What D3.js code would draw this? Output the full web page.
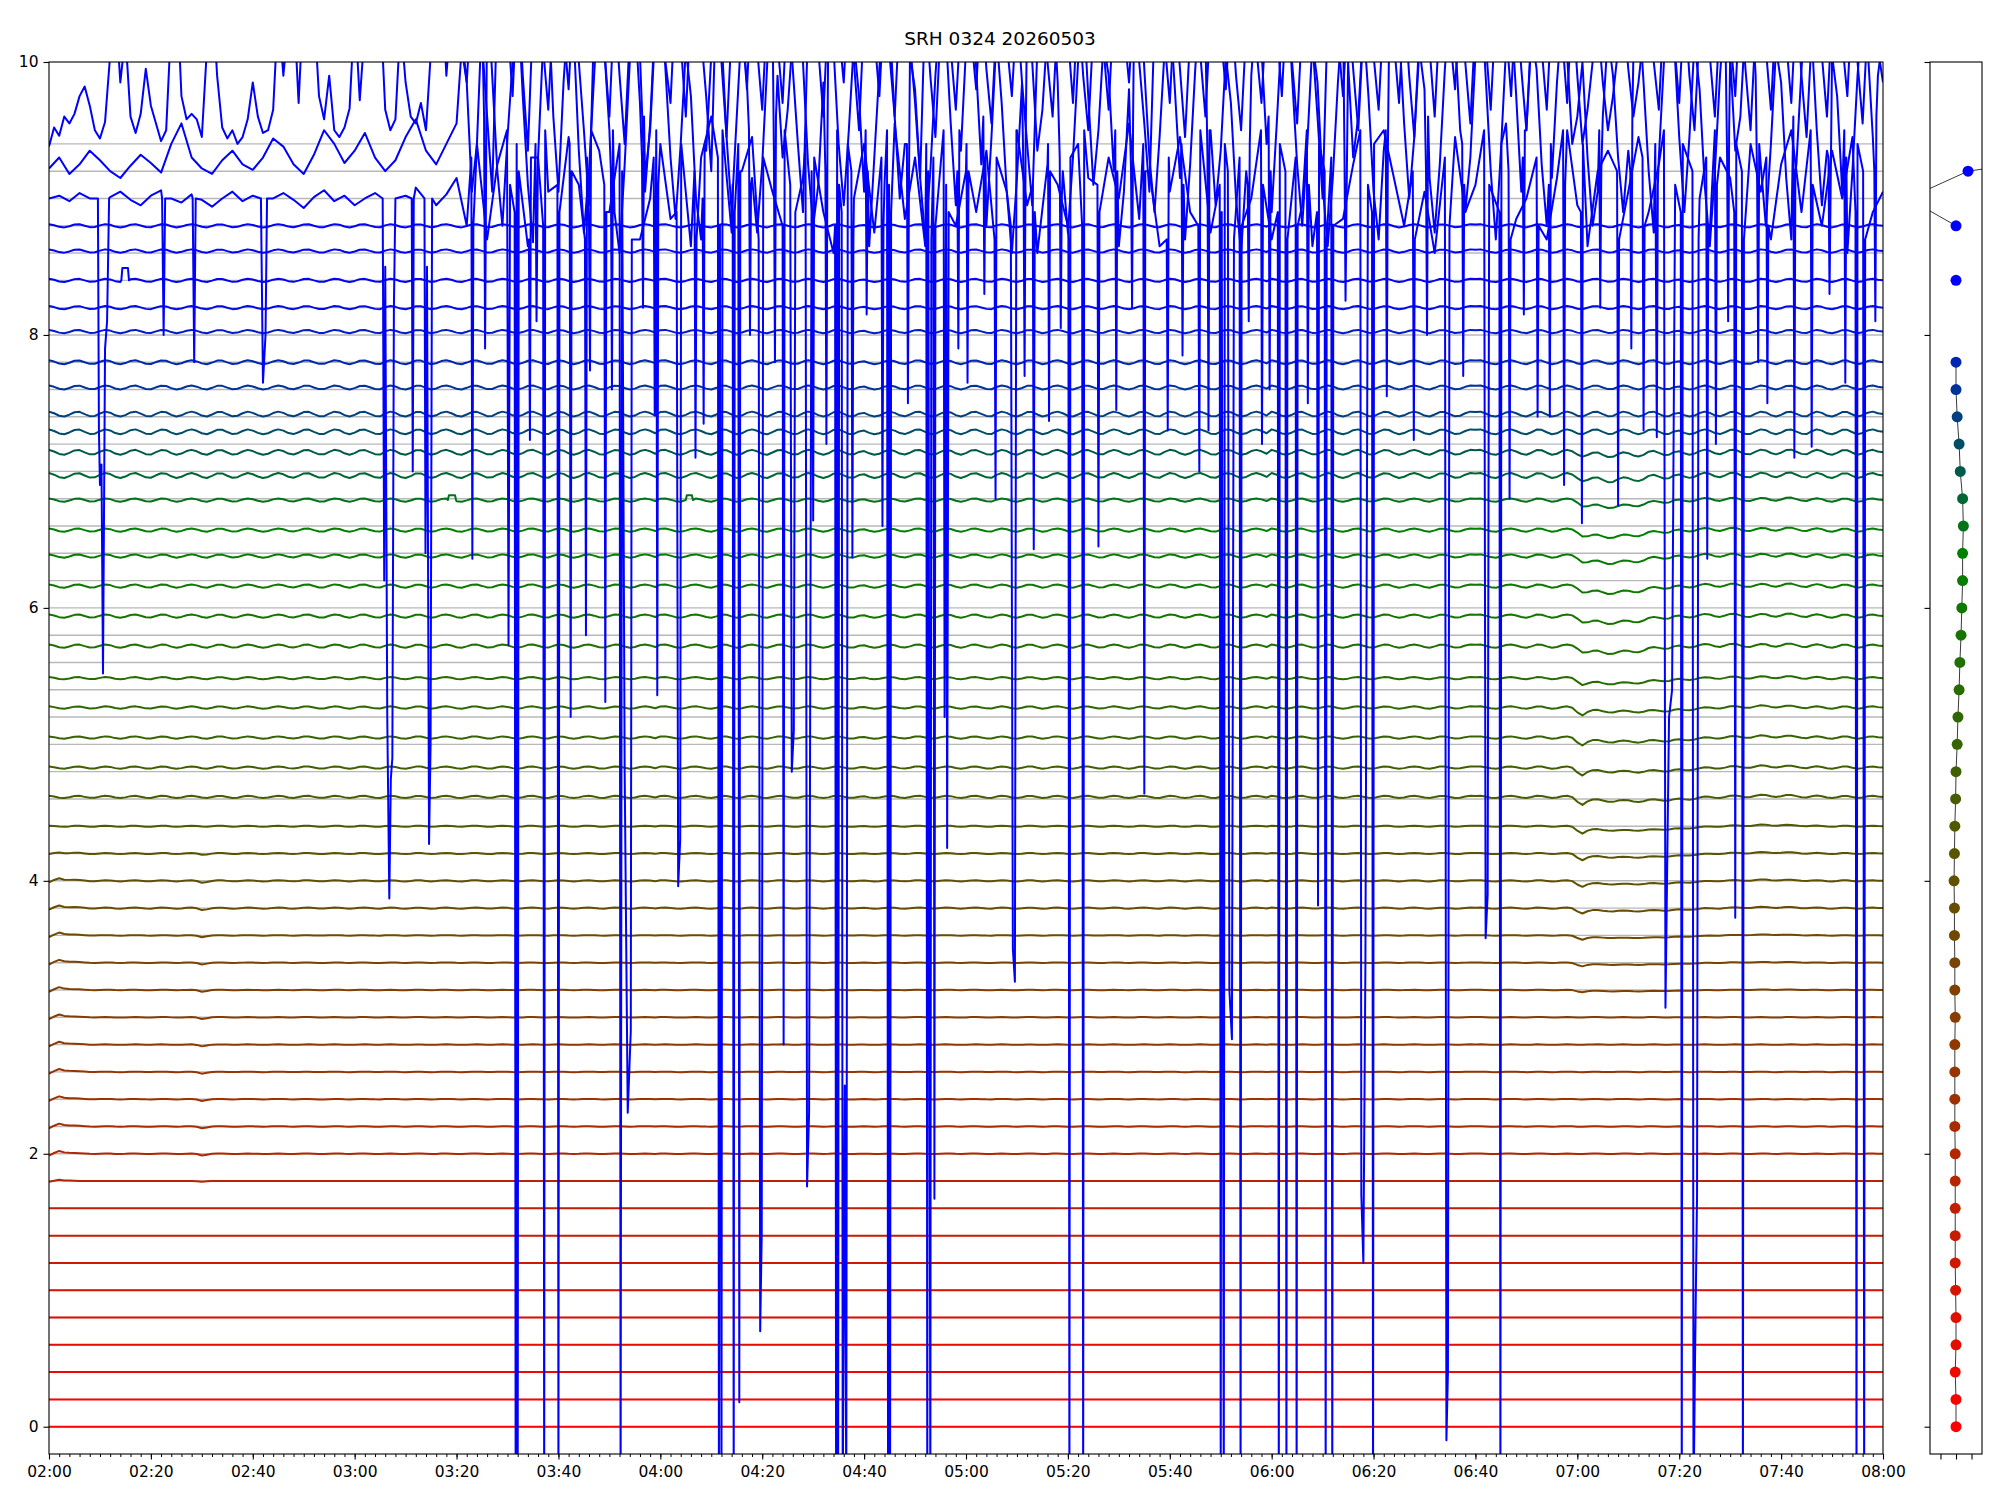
<!DOCTYPE html>
<html lang="en">
<head>
<meta charset="UTF-8">
<title>SRH 0324 20260503</title>
<script src="https://d3js.org/d3.v7.min.js"></script>
<style>
  body { margin: 0; background: #fff; }
  svg { display: block; font-family: "DejaVu Sans", sans-serif; }
</style>
</head>
<body>
<svg id="chart"></svg>
<script>
// ---------------- data ----------------
const chartTitle = 'SRH 0324 20260503';

// nominal level of every channel (also the grey grid lines)
const levels = [0.0, 0.2, 0.4, 0.6, 0.8, 1.0, 1.2, 1.4, 1.6, 1.8,
                2.0, 2.2, 2.4, 2.6, 2.8, 3.0, 3.2, 3.4, 3.6, 3.8,
                4.0, 4.2, 4.4, 4.6, 4.8, 5.0, 5.2, 5.4, 5.6, 5.8,
                6.0, 6.2, 6.4, 6.6, 6.8, 7.0, 7.2, 7.4, 7.6, 7.8,
                8.0, 8.2, 8.4, 8.6, 8.8, 9.0, 9.2, 9.4];

// how far each quiet trace sits above its grid line
const offsets = [0, 0, 0, 0, 0, 0, 0, 0, 0, 0,
                 0, 0, 0, 0, 0, 0, 0, 0, 0, 0,
                 0, 0, 0, 0.015, 0.03, 0.05, 0.07, 0.085, 0.12, 0.14,
                 0.16, 0.18, 0.17, 0.19, 0.17, 0.14, 0.09, 0.02, 0.015, 0,
                 0.025, 0, 0, 0.015, 0, 0, 0, 0];

// right panel: per-channel value (null = no point)
const panelX = [0, 0, -0.02, 0, 0, -0.01, -0.02, -0.02, -0.02, -0.02,
                -0.02, -0.03, -0.03, -0.03, -0.03, -0.02, -0.03, -0.03, -0.04, -0.04,
                -0.05, -0.04, -0.03, -0.01, 0, 0.03, 0.05, 0.08, 0.1, 0.13,
                0.15, 0.17, 0.17, 0.19, 0.17, 0.11, 0.08, 0.03, 0, 0,
                null, null, 0, null, 0, -1.24, 0.31, 5.2];

// size of the common ripple, the 07:00 dips and the 02:00 bump per channel
const wigAmp = [0, 0, 0, 0, 0, 0, 0, 0, 0, 0,
                0.15, 0.15, 0.15, 0.15, 0.15, 0.15, 0.15, 0.15, 0.15, 0.35,
                0.35, 0.35, 0.35, 0.7, 0.7, 0.7, 0.7, 0.7, 1, 1,
                1, 1, 1, 1, 1.5, 1.5, 1.5, 1.5, 1.2, 1.2,
                1, 1, 1, 1, 1, 0, 0, 0];
const sharpAmt = [0, 0, 0, 0, 0, 0, 0, 0, 0, 0,
                  0, 0, 0, 0, 0, 0, 0.3, 0.5, 0.6, 0.7,
                  0.8, 0.9, 1, 1, 1, 1, 1, 0.5, 0, 0,
                  0, 0, 0, 0, 0, 0, 0, 0, 0, 0,
                  0, 0, 0, 0, 0, 0, 0, 0];
const softAmt = [0, 0, 0, 0, 0, 0, 0, 0, 0, 0,
                 0, 0, 0, 0, 0, 0, 0, 0, 0, 0,
                 0, 0, 0, 0, 0, 0, 0, 0.5, 1, 1,
                 1, 1, 1, 1, 0.7, 0.4, 0, 0, 0, 0,
                 0, 0, 0, 0, 0, 0, 0, 0];
const bumpAmt = [0, 0, 0, 0, 0, 0, 0, 0, 0, 0.4,
                 1, 1, 1, 1, 1, 1, 1, 1, 1, 1,
                 1, 0.5, 0, 0, 0, 0, 0, 0, 0, 0,
                 0, 0, 0, 0, 0, 0, 0, 0, 0, 0,
                 0, 0, 0, 0, 0, 0, 0, 0];

// common ripple, thousandths, one value per minute 02:00..08:00
const wiggle = `
12 4 -8 -12 -3 9 11 0 -10 -9 3 12 7 -6 -12 -5 8 12 2 -9 -11 1 11 9 -4 -12 -6 6 12 5 -7 -12 -2 10 10 -1 -11 -8 4 12
6 -5 -12 -7 5 12 6 -6 -11 -2 10 11 0 -10 -10 2 12 8 -5 -12 -4 9 11 1 -9 -11 3 12 6 -7 -12 -3 10 10 -2 -12 -6 7 12 4
-8 -12 -2 10 11 1 -10 -9 4 12 6 -6 -12 -4 9 12 2 -9 -11 2 12 8 -5 -12 -5 8 12 3 -9 -11 1 11 9 -3 -12 -7 6 12 5 -7
10 12 3 -8 -12 -4 8 12 4 -7 -12 -2 11 10 -2 -12 -7 6 12 5 -8 -12 -1 10 11 0 -10 -9 4 12 7 -5 -12 -5 9 12 1 -10 -10 2
6 -5 -12 -7 5 12 6 -6 -11 -2 10 11 0 -10 -10 2 12 8 -5 -12 -4 9 11 1 -9 -11 3 12 6 -7 -12 -3 10 10 -2 -12 -6 7 12 4
-8 -12 -2 10 11 1 -10 -9 4 12 6 -6 -12 -4 9 12 2 -9 -11 2 12 8 -5 -12 -5 8 12 3 -9 -11 1 11 9 -3 -12 -7 6 12 5 -7
12 4 -8 -12 -3 9 11 0 -10 -9 3 12 7 -6 -12 -5 8 12 2 -9 -11 1 11 9 -4 -12 -6 6 12 5 -7 -12 -2 10 10 -1 -11 -8 4 12
10 12 3 -8 -12 -4 8 12 4 -7 -12 -2 11 10 -2 -12 -7 6 12 5 -8 -12 -1 10 11 0 -10 -9 4 12 7 -5 -12 -5 9 12 1 -10 -10 2
6 -5 -12 -7 5 12 6 -6 -11 -2 10 11 0 -10 -10 2 12 8 -5 -12 -4 9 11 1 -9 -11 3 12 6 -7 -12 -3 10 10 -2 -12 -6 7 12 4
0`;

// 07:00 dips, thousandths, minutes 296..350 (06:56..07:50)
const dipSharp = `0 0 0 -5 -30 -50 -32 -26 -25 -27 -28 -30 -30 -31 -30 -30 -29 -28 -27 -26
-24 -22 -20 -18 -16 -14 -12 -10 -8 -6 -4 -2 0 1 2 3 4 5 6 7 8 8 8 8 8 7 6 5 4 3 2 1 0 0 0`;
const dipSoft = `0 0 0 0 -10 -35 -45 -45 -44 -46 -48 -48 -47 -45 -42 -38 -33 -28 -23 -18
-14 -10 -7 -4 -2 0 1 2 3 4 5 5 5 6 6 6 5 5 4 4 4 5 6 7 8 8 7 6 5 4 3 2 1 0 0`;
// bump at the very start of the brown traces, thousandths, minutes 0..35
const startBump = `-15 5 22 12 8 5 3 2 1 0 0 0 0 0 0 0 0 0 0 0
0 0 0 0 0 0 0 0 0 -3 -12 -5 0 0 0 0`;

// small square steps: channel index, [minute, rise]
const steps = [
  [42, [[14.2, 0], [14.4, 0.09], [15.5, 0.09], [15.7, 0]]],
  [33, [[78.3, 0], [78.5, 0.035], [79.7, 0.035], [79.9, 0]]],
  [33, [[125.0, 0], [125.2, 0.035], [126.2, 0.035], [126.4, 0]]]
];

// channel 9.4, hundredths, one value per minute
const noisyA = `
938 952 946 960 955 962 975 982 968 950 944 956 1005 1045 985 1020 960 948 962 995
968 955 942 950 1030 1060 975 958 962 958 945 1010 1055 990 952 944 950 940 945 958
985 960 948 950 965 1040 990 1030 1045 970 1050 1020 1040 975 958 990 950 945 952 966
1040 972 1025 1060 1010 1045 965 950 958 1030 985 960 955 970 950 1010 1050 1065 990 1040
1070 1020 985 1050 1090 1015 960 905 1045 1080 1030 975 1060 990 935 1035 1075 1010 965 1040
1085 1025 980 1055 1000 950 895 1030 1070 1010 960 1045 990 940 1020 1065 1005 905 955 1035
1080 1000 970 1050 1015 960 1040 1090 1020 975 920 1055 1000 945 1025 1075 1030 980 1060 1010
965 1040 1085 1015 970 1050 995 940 890 1030 1070 1010 960 1045 1090 1025 985 1055 1000 950
1035 1080 1020 975 1050 1005 960 1040 1075 1015 970 915 1045 990 945 1025 1060 1010 965 1035
1085 1020 980 1050 995 955 1030 1070 1015 975 1040 985 940 895 1010 1055 1000 960 1035 1075
1020 970 1045 990 950 1025 1065 1010 965 1040 1080 1025 985 1050 1000 955 905 1030 1070 1015
970 1045 995 945 1020 1060 1005 960 1035 1075 1020 980 1045 990 950 1025 1065 1010 970 1040
1085 1025 975 1050 1000 955 1030 1070 1015 960 900 1035 1080 1020 975 1045 995 950 1025 1060
1005 965 1040 1075 1015 970 1045 990 945 1020 1065 1010 960 1035 1080 1020 980 1050 1000 955
1030 1070 1015 965 1040 1085 1025 975 1050 995 950 1025 1065 1010 965 1040 1075 1020 970 1045
990 940 965 1000 1030 985 950 975 1010 1040 995 960 985 1020 1055 1000 965 1040 1075 1015
970 1045 990 950 1025 1065 1005 960 1035 1080 1020 975 1050 995 950 1025 1060 1010 965 1040
1075 1015 970 1045 990 945 1020 1065 1005 960 1035 1070 1015 975 1050 1000 955 1030 1060 1010
985`;

// channel 9.2, hundredths: every 2 minutes up to 03:18, then every minute
const noisyBEarly = `
922 930 918 925 935 928 920 915 924 932 926 919 940 955 930 922 918 928 935 925
921 930 944 938 925 918 932 950 940 926 935 948 930 920 928 945 958 935 925 940`;
const noisyBLate = `
955 1010 985 905 940 1035 1060 990 920 880 945 1000 1050 975 910 868 930 1015 1045 960
905 985 1040 1020 935 875 920 990 1055 1010 950 890 860 925 1000 1035 970 915 950 1025
1060 995 930 885 940 1010 975 900 870 935 1005 1050 1020 945 890 960 1030 985 915 875
925 1000 1045 990 930 965 1020 1065 1000 925 880 910 985 1040 1010 940 895 950 1015 975
905 865 930 995 1050 1030 960 900 940 1005 980 915 870 920 990 1045 1025 955 895 935
1010 1060 995 925 880 945 1020 970 905 860 915 985 1040 1000 935 965 1025 1055 985 920
875 930 1000 1045 975 910 950 1015 990 920 865 905 980 1035 1060 995 930 890 945 1010
1040 980 915 870 925 995 1050 1020 950 895 935 1005 970 900 860 920 990 1045 1010 940
890 955 1025 1060 990 925 880 940 1015 985 910 865 915 985 1040 1000 930 960 1030 975
905 870 935 1000 1050 1025 955 900 945 1010 980 915 875 925 995 1045 1020 950 890 930
1005 1055 990 920 870 935 1010 1040 975 905 950 1020 995 925 880 915 985 1035 1005 940
960 1000 930 880 905 960 1020 990 930 890 935 1005 1045 985 920 875 930 1000 1050 1015
945 890 945 1015 980 910 865 920 990 1040 1005 935 960 1030 1060 990 925 880 940 1010
985 915 870 925 995 1045 1020 950 895 935 1005 975 905 860 920 990 1040 1010 945 990
1020`;

// channel 9.0, hundredths, one value every 2 minutes
const noisyC = `
900 902 898 904 900 896 901 905 899 895 902 906 900 897 903 899 894 900 905 898
902 896 900 904 899 893 901 906 898 902 895 900 904 897 890 902 908 899 895 903
915 880 940 870 925 955 890 865 930 905 875 945 910 860 935 890 920 950 870 900
940 885 910 865 930 960 895 875 920 945 880 905 935 870 915 950 890 860 925 900
940 875 910 955 885 930 865 900 945 880 920 890 935 870 905 950 895 860 925 910
880 940 915 870 930 900 955 885 920 865 905 945 890 930 875 915 950 880 900 935
870 920 945 895 865 910 940 885 925 900 870 950 915 880 935 905 860 925 945 890
910 875 930 955 885 900 940 870 915 950 895 865 920 935 880 905 945 890 925 870
910 955 900 875 930 915 885 940 905 870 925 950 890 910 880 935 900 945 915 890
905`;

// short drops of channel 9.2: [minute, value] points
const spikesB = [
  [[85.4, 9.6], [85.6, 7.9], [85.8, 9.2]],
  [[95.5, 9.4], [95.7, 8.1], [95.9, 9.0]],
  [[110.3, 9.2], [110.5, 7.6], [110.7, 9.5]],
  [[116.4, 9.3], [116.6, 8.2], [116.8, 9.6]],
  [[128.3, 9.0], [128.5, 7.35], [128.7, 9.4]],
  [[137.4, 9.5], [137.6, 8.0], [137.8, 9.1]],
  [[142.3, 9.3], [142.5, 7.8], [142.7, 9.6]],
  [[152.4, 9.2], [152.6, 7.2], [152.8, 9.4]],
  [[160.3, 9.5], [160.5, 8.15], [160.7, 9.2]],
  [[168.4, 9.4], [168.6, 7.5], [168.8, 9.1]],
  [[178.3, 9.2], [178.5, 7.9], [178.7, 9.5]],
  [[183.4, 9.6], [183.6, 8.3], [183.8, 9.3]],
  [[191.3, 9.1], [191.5, 7.7], [191.7, 9.4]],
  [[198.4, 9.3], [198.6, 8.05], [198.8, 9.0]],
  [[209.3, 9.5], [209.5, 7.45], [209.7, 9.2]],
  [[212.4, 9.2], [212.6, 8.2], [212.8, 9.6]],
  [[222.3, 9.4], [222.5, 7.85], [222.7, 9.1]],
  [[227.4, 9.3], [227.6, 7.3], [227.8, 9.5]],
  [[235.3, 9.1], [235.5, 8.1], [235.7, 9.4]],
  [[239.4, 9.6], [239.6, 7.6], [239.8, 9.2]],
  [[254.3, 9.3], [254.5, 8.25], [254.7, 9.0]],
  [[262.4, 9.5], [262.6, 7.55], [262.8, 9.3]],
  [[270.3, 9.2], [270.5, 8.0], [270.7, 9.6]],
  [[277.4, 9.4], [277.6, 7.7], [277.8, 9.1]],
  [[289.3, 9.3], [289.5, 8.15], [289.7, 9.5]],
  [[294.4, 9.1], [294.6, 7.4], [294.8, 9.4]],
  [[304.3, 9.5], [304.5, 8.2], [304.7, 9.2]],
  [[310.4, 9.2], [310.6, 7.9], [310.8, 9.6]],
  [[315.3, 9.4], [315.6, 7.25], [315.8, 9.1]],
  [[329.4, 9.3], [329.6, 8.1], [329.8, 9.5]],
  [[335.3, 9.1], [335.5, 7.8], [335.7, 9.4]],
  [[342.4, 9.6], [342.6, 7.1], [342.8, 9.2]],
  [[349.3, 9.3], [349.5, 8.3], [349.7, 9.0]],
  [[352.4, 9.5], [352.6, 7.65], [352.8, 9.3]],
  [[358.3, 9.2], [358.5, 8.1], [358.7, 9.6]]
];

// drops of channel 9.0: [minute, value] points
const spikesC = [
  [[9.6, 9.0], [9.8, 7.3], [10.0, 6.9], [10.3, 7.05], [10.6, 5.52], [11.0, 7.9], [11.4, 8.1], [11.8, 9.0]],
  [[22.2, 9.0], [22.5, 8.0], [22.8, 9.0]],
  [[28.2, 9.0], [28.5, 7.8], [28.8, 9.0]],
  [[41.6, 9.0], [42.0, 7.65], [42.5, 8.0], [42.8, 9.0]],
  [[65.5, 9.0], [65.8, 6.2], [66.0, 8.5], [66.4, 5.2], [66.8, 3.87], [67.1, 4.75], [67.4, 4.9], [67.7, 8.2], [68.0, 9.0]],
  [[71.2, 9.0], [71.4, 7.0], [71.6, 9.0]],
  [[73.7, 9.0], [73.9, 6.4], [74.2, 8.5], [74.6, 4.27], [74.9, 5.0], [75.2, 9.0]],
  [[82.9, 9.3], [83.1, 6.36], [83.3, 8.8]],
  [[89.9, 9.5], [90.2, 5.73], [90.5, 9.1]],
  [[91.4, 8.9], [91.6, -0.6], [91.8, 9.4], [92.0, -0.6], [92.2, 9.2]],
  [[94.2, 8.7], [94.4, 7.23], [94.6, 9.3]],
  [[97.0, 8.8], [97.2, -0.6], [97.4, 9.5]],
  [[99.8, 9.1], [100.0, -0.6], [100.2, 8.9]],
  [[102.2, 9.4], [102.4, 5.2], [102.6, 9.2]],
  [[105.2, 8.7], [105.4, 5.8], [105.6, 9.3]],
  [[106.0, 8.8], [106.2, 7.74], [106.4, 9.5]],
  [[109.0, 9.1], [109.2, 5.31], [109.4, 8.9]],
  [[112.0, 9.4], [112.2, -0.6], [112.5, 9.2], [113.0, 4.8], [113.6, 2.3], [114.2, 2.9], [114.4, 8.7]],
  [[118.7, 9.3], [118.9, 7.41], [119.1, 8.8], [119.2, 9.5], [119.4, 5.36], [119.6, 9.1]],
  [[123.2, 8.9], [123.5, 3.96], [123.9, 4.3], [124.1, 9.4]],
  [[126.7, 9.2], [126.9, 7.1], [127.1, 8.7]],
  [[131.3, 9.3], [131.5, -0.6], [131.7, 8.8], [132.0, -0.6], [132.2, 9.5]],
  [[134.2, 9.1], [134.4, -0.6], [134.6, 8.9], [135.3, 9.4], [135.5, 0.18], [135.7, 9.2]],
  [[139.3, 8.7], [139.6, 0.7], [139.9, 1.4], [140.2, 9.3]],
  [[144.0, 8.8], [144.2, 2.8], [144.4, 9.5]],
  [[145.5, 9.1], [145.8, 4.8], [146.2, 5.1], [146.5, 8.9]],
  [[148.5, 9.4], [148.8, 1.76], [149.2, 2.3], [149.7, 9.2]],
  [[149.8, 8.7], [150.0, 6.64], [150.2, 9.3]],
  [[154.3, 8.8], [154.5, -0.6], [154.7, 9.5], [154.9, -0.6], [155.1, 9.1], [155.6, 8.9], [155.8, -0.6], [156.2, 2.5], [156.5, -0.6], [156.8, 9.4]],
  [[157.5, 9.2], [157.7, 6.37], [157.9, 8.7]],
  [[163.4, 9.3], [163.6, 6.6], [163.8, 8.8]],
  [[164.5, 9.5], [164.7, -0.6], [164.9, 9.1], [165.1, -0.6], [165.3, 8.9]],
  [[172.2, 9.4], [172.4, -0.6], [172.6, 9.2], [173.0, -0.6], [173.2, 8.7], [173.6, 9.3], [173.8, 1.67], [174.0, 8.8]],
  [[175.6, 9.5], [175.8, 5.2], [176.1, 9.1], [176.3, 4.24], [176.6, 8.9]],
  [[180.1, 9.4], [180.3, 7.65], [180.5, 9.2]],
  [[185.6, 8.7], [185.8, 6.8], [186.0, 9.3]],
  [[188.8, 8.8], [189.2, 3.5], [189.6, 3.26], [189.9, 9.5]],
  [[193.1, 9.1], [193.3, 6.43], [193.5, 8.9]],
  [[196.1, 9.4], [196.3, 7.37], [196.5, 9.2]],
  [[200.1, 8.7], [200.3, -0.6], [200.5, 9.3]],
  [[202.8, 8.8], [203.0, -0.6], [203.2, 9.5]],
  [[205.8, 9.1], [206.0, 6.45], [206.2, 8.9]],
  [[214.8, 9.4], [215.0, 4.64], [215.2, 9.2]],
  [[219.4, 8.7], [219.6, 7.3], [219.8, 9.3]],
  [[225.6, 8.8], [225.8, 7.0], [226.0, 9.5]],
  [[229.8, 9.1], [230.0, -0.6], [230.2, 8.9], [230.6, -0.6], [230.8, 9.4], [231.4, 9.2], [231.7, 3.2], [232.2, 2.84], [232.6, 8.7], [233.7, 9.3], [233.9, -0.6], [234.1, 8.8]],
  [[237.9, 9.5], [238.1, 7.2], [238.3, 9.1]],
  [[241.2, 8.9], [241.4, -0.6], [241.6, 9.4], [242.7, 9.2], [242.9, -0.6], [243.1, 8.7], [244.7, 9.3], [244.9, -0.6], [245.1, 8.8]],
  [[246.9, 9.5], [247.1, 7.5], [247.3, 9.1]],
  [[248.9, 8.9], [249.1, 3.82], [249.3, 9.4], [250.4, 9.2], [250.6, -0.6], [250.8, 8.7], [251.7, 9.3], [251.9, -0.6], [252.1, 8.8]],
  [[257.4, 9.5], [257.6, 1.7], [258.0, 1.2], [258.4, 3.4], [258.9, 9.1], [259.7, 8.9], [259.9, -0.6], [260.1, 9.4]],
  [[267.7, 9.2], [267.9, 7.23], [268.1, 8.7]],
  [[274.0, 9.3], [274.3, -0.1], [274.6, 0.4], [274.9, 8.8]],
  [[281.7, 9.5], [282.0, 3.58], [282.4, 3.9], [282.7, 9.1], [284.7, 8.9], [284.9, -0.6], [285.1, 9.4]],
  [[286.5, 9.2], [286.7, 6.8], [286.9, 8.7]],
  [[292.0, 9.3], [292.2, 7.4], [292.4, 8.8]],
  [[297.2, 9.5], [297.4, 6.9], [297.6, 9.1]],
  [[300.7, 8.9], [300.9, 6.62], [301.1, 9.4]],
  [[307.8, 9.2], [308.0, 6.75], [308.2, 8.7]],
  [[312.8, 9.3], [313.0, 7.3], [313.2, 8.8]],
  [[317.0, 9.5], [317.3, 3.07], [318.0, 5.2], [318.6, 5.4], [319.2, 9.1], [320.3, 8.9], [320.5, -0.6], [320.7, 9.4], [322.6, 9.2], [322.8, -0.6], [323.1, 0.48], [323.5, 1.7], [323.8, 8.7]],
  [[325.3, 9.3], [325.5, 6.36], [325.7, 8.8]],
  [[327.0, 9.5], [327.2, 7.2], [327.4, 9.1]],
  [[330.8, 8.9], [331.0, 3.73], [331.2, 9.4], [332.3, 9.2], [332.5, -0.6], [332.7, 8.7]],
  [[337.1, 9.3], [337.3, 7.5], [337.5, 8.8]],
  [[345.8, 9.5], [346.0, 7.18], [346.2, 9.1]],
  [[354.6, 8.9], [354.8, -0.6], [355.0, 9.4], [356.1, 9.2], [356.3, -0.6], [356.5, 8.7]]
];

// ---------------- layout ----------------
const W = 2000, H = 1500;
const M = { left: 49, right: 1883, top: 62, bottom: 1454 };
const P = { left: 1930, right: 1982 };
const t0 = new Date(2026, 4, 3, 2, 0);
const toDate = m => new Date(t0.getTime() + m * 60000);

const svg = d3.select('#chart').attr('width', W).attr('height', H);

const x = d3.scaleTime().domain([toDate(0), toDate(360)]).range([M.left, M.right]);
const y = d3.scaleLinear().domain([-0.2, 10]).range([M.bottom, M.top]);
const px = d3.scaleLinear().domain([-0.67, 0.67]).range([P.left, P.right]);
const color = d3.scaleLinear().domain([0, 6.4, 8.4])
    .range(['#ff0000', '#008000', '#0000ff']).clamp(true);

const num = s => s.trim().split(/\s+/).map(Number);
const wig = num(wiggle), dS = num(dipSharp), dF = num(dipSoft), sB = num(startBump);

// quiet channel: level + its shift + shared shapes
function quietSeries(i) {
    const pts = [];
    for (let m = 0; m <= 360; m++) {
        let v = levels[i] + offsets[i] + wigAmp[i] * wig[m] / 1000;
        if (m >= 296 && m - 296 < dS.length) v += (sharpAmt[i] * dS[m - 296] + softAmt[i] * dF[m - 296]) / 1000;
        if (m < sB.length) v += bumpAmt[i] * sB[m] / 1000;
        pts.push([m, v]);
    }
    return pts;
}

// put event points in place of the base points they cover
function mergeEvents(base, events) {
    let pts = base.filter(p => !events.some(e => p[0] >= e[0][0] && p[0] <= e[e.length - 1][0]));
    events.forEach(e => { pts = pts.concat(e); });
    return pts.sort((a, b) => a[0] - b[0]);
}

const series = [];
for (let i = 0; i < 45; i++) {
    let pts = quietSeries(i);
    const ev = steps.filter(s => s[0] === i)
        .map(s => s[1].map(([t, dv]) => [t, levels[i] + offsets[i] + dv]));
    if (ev.length) pts = mergeEvents(pts, ev);
    series.push({ level: levels[i], pts });
}
const cPts = num(noisyC).map((v, k) => [k * 2, v / 100]).filter(p => p[0] <= 360);
const bPts = num(noisyBEarly).map((v, k) => [k * 2, v / 100])
    .concat(num(noisyBLate).map((v, k) => [80 + k, v / 100]))
    .filter(p => p[0] <= 360);
series.push({ level: levels[45], pts: mergeEvents(cPts, spikesC) });
series.push({ level: levels[46], pts: mergeEvents(bPts, spikesB) });
series.push({ level: levels[47], pts: num(noisyA).map((v, k) => [k, v / 100]).filter(p => p[0] <= 360) });

// ---------------- main panel ----------------
const defs = svg.append('defs');
defs.append('clipPath').attr('id', 'clip-main').append('rect')
    .attr('x', M.left).attr('y', M.top)
    .attr('width', M.right - M.left).attr('height', M.bottom - M.top);
defs.append('clipPath').attr('id', 'clip-side').append('rect')
    .attr('x', P.left).attr('y', M.top)
    .attr('width', P.right - P.left).attr('height', M.bottom - M.top);

const plot = svg.append('g').attr('clip-path', 'url(#clip-main)');

// grey lines at each channel level
plot.selectAll('line.grid').data(levels).join('line')
    .attr('class', 'grid')
    .attr('x1', M.left).attr('x2', M.right)
    .attr('y1', d => y(d)).attr('y2', d => y(d))
    .attr('stroke', '#b8b8b8').attr('stroke-width', 1.4);

const line = d3.line().x(d => x(toDate(d[0]))).y(d => y(d[1]));

plot.selectAll('path.trace').data(series).join('path')
    .attr('class', 'trace')
    .attr('d', d => line(d.pts))
    .attr('fill', 'none')
    .attr('stroke', d => color(d.level))
    .attr('stroke-width', 2)
    .attr('stroke-linejoin', 'round');

// axes
const fontSize = '15.5px';
const xMajor = d3.axisBottom(x).ticks(d3.timeMinute.every(20))
    .tickFormat(d3.timeFormat('%H:%M')).tickSize(5.5).tickPadding(6.5);
const xMinor = d3.axisBottom(x).ticks(d3.timeMinute.every(2))
    .tickFormat('').tickSize(3);

svg.append('g').attr('transform', `translate(0,${M.bottom})`).call(xMinor)
    .call(g => g.select('.domain').remove())
    .selectAll('line').attr('stroke', '#000').attr('stroke-width', 1);
const gx = svg.append('g').attr('transform', `translate(0,${M.bottom})`).call(xMajor);
gx.select('.domain').remove();
gx.selectAll('line').attr('stroke', '#000').attr('stroke-width', 1.1);
gx.selectAll('text').attr('font-size', fontSize).attr('fill', '#000')
    .attr('font-family', '"DejaVu Sans", sans-serif');

const yTicks = [0, 2, 4, 6, 8, 10];
const gy = svg.append('g').attr('transform', `translate(${M.left},0)`)
    .call(d3.axisLeft(y).tickValues(yTicks).tickFormat(d3.format('d')).tickSize(5.5).tickPadding(5));
gy.select('.domain').remove();
gy.selectAll('line').attr('stroke', '#000').attr('stroke-width', 1.1);
gy.selectAll('text').attr('font-size', fontSize).attr('fill', '#000')
    .attr('font-family', '"DejaVu Sans", sans-serif');

svg.append('rect')
    .attr('x', M.left).attr('y', M.top)
    .attr('width', M.right - M.left).attr('height', M.bottom - M.top)
    .attr('fill', 'none').attr('stroke', '#000').attr('stroke-width', 1.1);

// ---------------- side panel ----------------
const side = svg.append('g').attr('clip-path', 'url(#clip-side)');
const sidePts = levels.map((l, i) => ({ v: panelX[i], level: l }));

side.append('path')
    .attr('d', d3.line().defined(d => d.v !== null)
        .x(d => px(d.v)).y(d => y(d.level))(sidePts))
    .attr('fill', 'none').attr('stroke', '#3a3a3a').attr('stroke-width', 1);

side.selectAll('circle').data(sidePts.filter(d => d.v !== null)).join('circle')
    .attr('cx', d => px(d.v)).attr('cy', d => y(d.level))
    .attr('r', 5.5)
    .attr('fill', d => color(d.level));

const sy = svg.append('g').attr('transform', `translate(${P.left},0)`)
    .call(d3.axisLeft(y).tickValues(yTicks).tickFormat('').tickSize(5.5));
sy.select('.domain').remove();
sy.selectAll('line').attr('stroke', '#000').attr('stroke-width', 1.1);

const sx = svg.append('g').attr('transform', `translate(0,${M.bottom})`)
    .call(d3.axisBottom(px).tickValues([-0.4, 0, 0.4]).tickFormat('').tickSize(5.5));
sx.select('.domain').remove();
sx.selectAll('line').attr('stroke', '#000').attr('stroke-width', 1.1);

svg.append('rect')
    .attr('x', P.left).attr('y', M.top)
    .attr('width', P.right - P.left).attr('height', M.bottom - M.top)
    .attr('fill', 'none').attr('stroke', '#000').attr('stroke-width', 1.1);

// title
svg.append('text')
    .attr('x', W / 2).attr('y', 45)
    .attr('text-anchor', 'middle')
    .attr('font-size', '18.5px')
    .attr('fill', '#000')
    .text(chartTitle);
</script>
</body>
</html>
